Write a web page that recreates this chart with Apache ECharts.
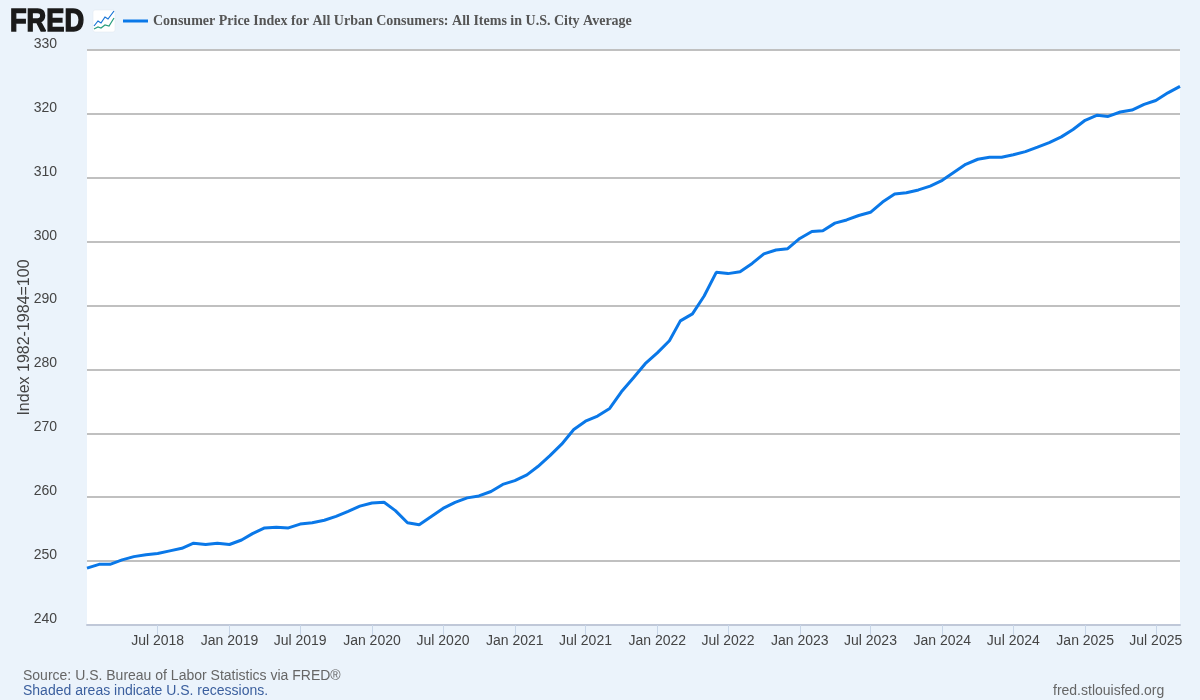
<!DOCTYPE html>
<html>
<head>
<meta charset="utf-8">
<style>html,body{margin:0;padding:0;background:#ebf3fb}#c{width:1200px;height:700px}</style>
<script src="https://cdn.jsdelivr.net/npm/echarts@6/dist/echarts.min.js"></script>
</head>
<body>
<div id="c"></div>
<script>
const seriesName = 'Consumer Price Index for All Urban Consumers: All Items in U.S. City Average';
const yAxisName = 'Index 1982-1984=100';
const startYear = 2018;
const cpiValues = [
  248.9,249.5,249.5,250.2,250.7,251.0,251.2,251.6,252.0,252.8,252.6,252.8,
  252.6,253.3,254.3,255.2,255.3,255.2,255.8,256.0,256.4,257.0,257.8,258.6,
  259.1,259.2,257.9,256.0,255.7,257.0,258.25,259.2,259.9,260.2,260.9,262.0,
  262.6,263.5,264.8,266.5,268.3,270.6,271.9,272.7,273.9,276.5,278.7,280.9,
  282.6,284.5,287.6,288.7,291.5,295.2,295.0,295.3,296.6,298.1,298.7,298.9,
  300.5,301.6,301.7,302.9,303.4,304.1,304.6,306.2,307.45,307.65,308.1,308.7,
  309.6,310.9,312.1,312.9,313.2,313.2,313.6,314.1,314.8,315.5,316.4,317.55,
  319.0,319.8,319.6,320.3,320.6,321.5,322.1,323.3,324.3
];
const tickLabels = ['Jul 2018','Jan 2019','Jul 2019','Jan 2020','Jul 2020','Jan 2021','Jul 2021','Jan 2022','Jul 2022','Jan 2023','Jul 2023','Jan 2024','Jul 2024','Jan 2025','Jul 2025'];
const monthIndex = {Jan:0, Jul:6};
const tickValues = tickLabels.map(s => { const p = s.split(' '); return Date.UTC(+p[1], monthIndex[p[0]], 1); });
const points = cpiValues.map((v, i) => [Date.UTC(startYear, i, 1), v]);

const chart = echarts.init(document.getElementById('c'), null, {renderer:'canvas'});
const sans = '"Liberation Sans", Arial, sans-serif';
chart.setOption({
  animation: false,
  backgroundColor: '#ebf3fb',
  legend: {
    left: 123, top: 14, padding: 0,
    icon: 'rect', itemWidth: 25, itemHeight: 3, itemGap: 5,
    textStyle: {fontFamily: '"Liberation Serif", serif', fontWeight: 'bold', fontSize: 14, color: '#555555'},
    data: [seriesName]
  },
  grid: {left: 87, right: 20, top: 50, bottom: 75, backgroundColor: '#ffffff', show: true, borderWidth: 0, outerBoundsMode: 'none'},
  xAxis: {
    type: 'value',
    min: Date.UTC(2018,0,1), max: Date.UTC(2025,8,1),
    axisLine: {show: true, lineStyle: {color: '#c0c8d8', width: 2}},
    axisTick: {show: true, length: 10, customValues: tickValues, lineStyle: {color: '#c8d6e8', width: 1}},
    axisLabel: {customValues: tickValues, margin: 9, fontFamily: sans, fontSize: 14, color: '#444444',
      formatter: v => tickLabels[tickValues.indexOf(v)] || '', hideOverlap: false},
    splitLine: {show: false}
  },
  yAxis: {
    type: 'value', min: 240, max: 330, interval: 10,
    name: yAxisName, nameLocation: 'middle', nameGap: 54, nameRotate: 90, nameMoveOverlap: false,
    nameTextStyle: {fontFamily: sans, fontSize: 16, color: '#444444'},
    axisLine: {show: false}, axisTick: {show: false},
    axisLabel: {margin: 30, fontFamily: sans, fontSize: 14, color: '#444444', verticalAlign: 'bottom', lineHeight: 12},
    splitLine: {show: true, lineStyle: {color: '#c0c0c0', width: 2}}
  },
  series: [{
    name: seriesName, type: 'line', data: points, showSymbol: false, smooth: false,
    lineStyle: {color: '#0a78e8', width: 3}, itemStyle: {color: '#0a78e8'}, z: 5
  }],
  graphic: [
    {type:'text', x:10, y:6, scaleX:0.85, style:{text:'FRED', fontFamily:sans, fontWeight:'bold', fontSize:32, fill:'#1a1a1a', stroke:'#1a1a1a', lineWidth:1.5}},
    {type:'rect', shape:{x:93, y:10, width:22, height:22, r:2}, style:{fill:'#ffffff', stroke:'#dfe6ee', lineWidth:0.5}},
    {type:'polyline', shape:{points:[[94,26],[98,21],[101,23],[105,17],[108,19],[114,11]]}, style:{fill:'none', stroke:'#1673d6', lineWidth:1.2}},
    {type:'polyline', shape:{points:[[94,29],[98,27],[101,28],[105,25],[109,26],[114,18]]}, style:{fill:'none', stroke:'#2a9d7e', lineWidth:1.2}},
    {type:'text', x:23, y:669, style:{text:'Source: U.S. Bureau of Labor Statistics via FRED®', fontFamily:sans, fontSize:14, fill:'#666666'}},
    {type:'text', x:23, y:684, style:{text:'Shaded areas indicate U.S. recessions.', fontFamily:sans, fontSize:14, fill:'#3b5f9e'}},
    {type:'text', x:1053, y:684, style:{text:'fred.stlouisfed.org', fontFamily:sans, fontSize:14, fill:'#666666'}}
  ]
});
</script>
</body>
</html>
